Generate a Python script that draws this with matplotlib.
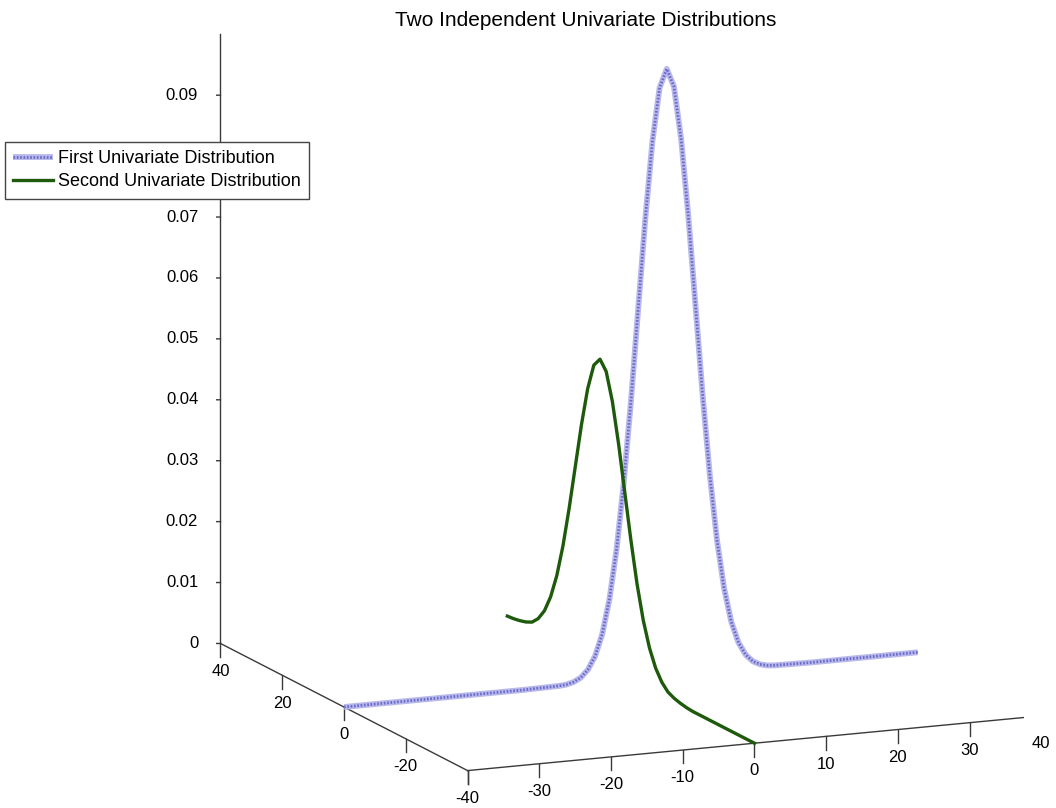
import numpy as np
import matplotlib.pyplot as plt
from matplotlib.legend_handler import HandlerTuple
from mpl_toolkits.mplot3d import proj3d

plt.rcParams['font.family'] = ['Liberation Sans', 'DejaVu Sans']
plt.rcParams['axes.unicode_minus'] = False

# first distribution, drawn along x at y = 0
first_x = [-40, -35, -30, -25, -20, -15, -10, -9, -8, -7, -6, -5, -4, -3, -2, -1,
           0, 1, 2, 3, 4, 5, 6, 7, 8, 9, 10, 11, 12, 13, 14, 15, 16, 17, 18, 19,
           20, 25, 30, 35, 40]
first_z = [0, 0, 0, 0, 0, 0, 0.0001, 0.0002, 0.0005, 0.0011, 0.0023, 0.0044,
           0.0079, 0.0135, 0.0216, 0.0324, 0.0456, 0.0605, 0.0753, 0.0880, 0.0967,
           0.0997, 0.0967, 0.0880, 0.0753, 0.0605, 0.0456, 0.0324, 0.0216, 0.0135,
           0.0079, 0.0044, 0.0023, 0.0011, 0.0005, 0.0002, 0.0001, 0, 0, 0, 0]

# second distribution, drawn along y at x = 0
second_y = [-40, -35, -30, -25, -20, -18, -16, -14, -12, -10, -8, -6, -4, -2, 0,
            2, 4, 6, 8, 10, 12, 14, 16, 18, 20, 22, 24, 26, 28, 30, 32, 34, 36,
            38, 40]
second_z = [0, 0, 0, 0, 0, 0.0001, 0.0003, 0.0006, 0.0011, 0.0022, 0.0040,
            0.0068, 0.0108, 0.0162, 0.0229, 0.0303, 0.0377, 0.0441, 0.0485,
            0.0500, 0.0485, 0.0441, 0.0377, 0.0303, 0.0229, 0.0162, 0.0108,
            0.0068, 0.0040, 0.0022, 0.0011, 0.0006, 0.0003, 0.0001, 0]

x_ticks = [-40, -30, -20, -10, 0, 10, 20, 30, 40]
y_ticks = [-40, -20, 0, 20, 40]
z_ticks = [0, 0.01, 0.02, 0.03, 0.04, 0.05, 0.06, 0.07, 0.08, 0.09]

XMIN, XMAX = -40, 40
YMIN, YMAX = -40, 40
ZMIN, ZMAX = 0, 0.1

fig = plt.figure(figsize=(10.56, 8.08), dpi=100)
ax = fig.add_axes([0.0871, 0.0223, 1.0, 1.0], projection='3d')
ax.set_proj_type('ortho')
ax.view_init(elev=12.8, azim=-113.3)
ax.set_box_aspect((1, 1, 1), zoom=1.30)
ax.set_xlim(XMIN, XMAX)
ax.set_ylim(YMIN, YMAX)
ax.set_zlim(ZMIN, ZMAX)
ax.set_axis_off()

# axis lines drawn by hand (matlab style: x in front, y on the left, z at back-left)
axc = '#3a3a3a'
ax.plot([XMIN, XMAX], [YMIN, YMIN], [ZMIN, ZMIN], color=axc, lw=1)
ax.plot([XMIN, XMIN], [YMIN, YMAX], [ZMIN, ZMIN], color=axc, lw=1)
ax.plot([XMIN, XMIN], [YMAX, YMAX], [ZMIN, ZMAX], color=axc, lw=1)

tick_dz = 0.0022   # vertical tick length (about 13 px)
for t in x_ticks:
    ax.plot([t, t], [YMIN, YMIN], [ZMIN, ZMIN - tick_dz], color=axc, lw=1)
for t in y_ticks:
    ax.plot([XMIN, XMIN], [t, t], [ZMIN, ZMIN - tick_dz], color=axc, lw=1)
for t in z_ticks:
    # a step that moves straight left on screen
    ax.plot([XMIN, XMIN - 1.52], [YMAX, YMAX + 0.66], [t, t], color=axc, lw=1)

# lavender band with darker dots on top
first_base, = ax.plot(first_x, np.zeros(len(first_x)), first_z,
                      color='#b9b9ec', lw=4.2, solid_capstyle='butt')
first_dots, = ax.plot(first_x, np.zeros(len(first_x)), first_z,
                      color='#6b6bc9', lw=2.0, ls=(0, (0.6, 0.6)))
second_line, = ax.plot(np.zeros(len(second_y)), second_y, second_z,
                       color='#1e5a0c', lw=2.4)

# tick labels as 2d annotations at the projected tick positions
fig.canvas.draw()
M = ax.get_proj()


def screen(x, y, z):
    px, py, _ = proj3d.proj_transform(x, y, z, M)
    return (px, py)


label_kw = dict(textcoords='offset points', va='center', fontsize=12,
                annotation_clip=False)
for t in x_ticks:
    ax.annotate(f'{t}', xy=screen(t, YMIN, ZMIN), xytext=(0, -20), ha='center', **label_kw)
for t in y_ticks:
    if t != YMIN:  # shares its label with the x axis corner
        ax.annotate(f'{t}', xy=screen(XMIN, t, ZMIN), xytext=(0, -20), ha='center', **label_kw)
for t in z_ticks:
    ax.annotate(f'{t:g}', xy=screen(XMIN, YMAX, t), xytext=(-16, 0), ha='right', **label_kw)

fig.text(0.555, 0.975, 'Two Independent Univariate Distributions',
         ha='center', va='center', fontsize=15)
fig.legend(handles=[(first_base, first_dots), second_line],
           labels=['First Univariate Distribution', 'Second Univariate Distribution'],
           handler_map={tuple: HandlerTuple(ndivide=1)},
           loc='upper left', bbox_to_anchor=(5 / 1056, 1 - 142 / 808),
           borderaxespad=0, fancybox=False, edgecolor='#444444',
           framealpha=1, fontsize=13, handlelength=2.2, borderpad=0.45,
           labelspacing=0.35, handletextpad=0.3)

fig.savefig('out.png', dpi=100)
